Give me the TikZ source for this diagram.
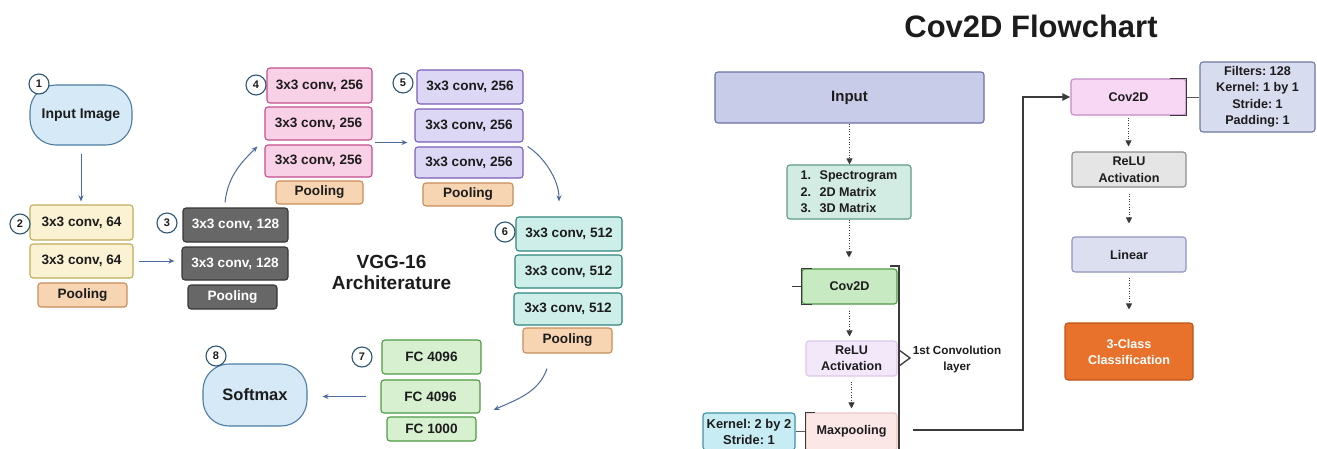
\documentclass[tikz,border=0pt]{standalone}
\usepackage{fontspec}
\setmainfont{Liberation Sans}
\usetikzlibrary{arrows.meta,calc}
\newcommand\sizedbold[2]{\fontsize{#1}{#2}\selectfont\bfseries}
\frenchspacing

% VGG-16 palette
\definecolor{blueF}{HTML}{D5E9F7}
\definecolor{blueL}{HTML}{4E7DA3}
\definecolor{ringL}{HTML}{2F5673}
\definecolor{yelF}{HTML}{FAF2D3}
\definecolor{yelL}{HTML}{BFAE5A}
\definecolor{peachF}{HTML}{F7D5B3}
\definecolor{peachL}{HTML}{C88D5B}
\definecolor{greyF}{HTML}{676767}
\definecolor{greyL}{HTML}{363636}
\definecolor{pinkF}{HTML}{F9D1E6}
\definecolor{pinkL}{HTML}{C44F8E}
\definecolor{purF}{HTML}{DCD7F4}
\definecolor{purL}{HTML}{7B5FB8}
\definecolor{tealF}{HTML}{CEEEEA}
\definecolor{tealL}{HTML}{2F8579}
\definecolor{grnF}{HTML}{D6F0D0}
\definecolor{grnL}{HTML}{4D9B44}
\definecolor{arrB}{HTML}{4D6A9C}
% flowchart palette
\definecolor{inpF}{HTML}{C9CCE8}
\definecolor{inpL}{HTML}{6A71A7}
\definecolor{specF}{HTML}{D3ECE3}
\definecolor{specL}{HTML}{5C9B86}
\definecolor{cvaF}{HTML}{C7EAC2}
\definecolor{cvaL}{HTML}{4F9B47}
\definecolor{reluaF}{HTML}{F3E8FA}
\definecolor{reluaL}{HTML}{DCC7EA}
\definecolor{maxF}{HTML}{FCE7E7}
\definecolor{maxL}{HTML}{EFC7C7}
\definecolor{kernF}{HTML}{C7ECF4}
\definecolor{kernL}{HTML}{3B93AB}
\definecolor{cvbF}{HTML}{F8D7F5}
\definecolor{cvbL}{HTML}{C68BC5}
\definecolor{filtF}{HTML}{D8DCEF}
\definecolor{filtL}{HTML}{6E78A1}
\definecolor{relubF}{HTML}{E5E5E5}
\definecolor{relubL}{HTML}{8C8C8C}
\definecolor{linF}{HTML}{DCDFF0}
\definecolor{linL}{HTML}{8F95BD}
\definecolor{clsF}{HTML}{E8712B}
\definecolor{clsL}{HTML}{C0551A}
\definecolor{ink}{HTML}{1C1C1C}
\definecolor{wire}{HTML}{3A3A3A}

\tikzset{
  sz/.style n args={2}{minimum width=#1, minimum height=#2},
  box/.style={rectangle, draw, rounded corners=3pt, line width=1.1pt,
    inner sep=0pt, align=center, text=ink},
  pill/.style={box, rounded corners=26pt},
  vgg/.style={box, font=\sizedbold{13.6}{16}},
  flow/.style={box, font=\sizedbold{12.6}{16.5}},
  yel/.style={vgg, fill=yelF, draw=yelL},
  peach/.style={vgg, fill=peachF, draw=peachL},
  grey/.style={vgg, fill=greyF, draw=greyL, text=white},
  pink/.style={vgg, fill=pinkF, draw=pinkL},
  pur/.style={vgg, fill=purF, draw=purL},
  teal/.style={vgg, fill=tealF, draw=tealL},
  grn/.style={vgg, fill=grnF, draw=grnL},
  num/.style={circle, draw=ringL, fill=white, line width=1.1pt,
    minimum size=20pt, inner sep=0pt, font=\sizedbold{11}{12}, text=ink},
  barr/.style={draw=arrB, line width=1pt, -{Stealth[length=6pt,width=5pt]}},
  dotarr/.style={draw=wire, line width=0.9pt, dash pattern=on 1pt off 1.6pt,
    -{Triangle[length=6pt,width=6pt,fill=wire]}},
  brk/.style={draw=wire, line width=1.3pt},
  link/.style={draw=gray!70!black, line width=1pt},
  loopw/.style={draw=wire, line width=2pt, -{Triangle[length=8pt,width=7pt]}},
}

\begin{document}
\begin{tikzpicture}[x=1pt,y=-1pt]
\path[fill=white, use as bounding box] (0,0) rectangle (1317,448);

%%% VGG-16 architecture
\node[pill, fill=blueF, draw=blueL, sz={102}{60}, font=\sizedbold{14}{16}] (inimg) at (81,115) {Input Image};

\node[yel, sz={103}{35}] (y1) at (81.5,222.5) {3x3 conv, 64};
\node[yel, sz={103}{34}] (y2) at (81.5,261) {3x3 conv, 64};
\node[peach, sz={89}{24}] (yp) at (82.5,295) {Pooling};

\node[grey, sz={105}{34}] (g1) at (235.5,225) {3x3 conv, 128};
\node[grey, sz={106}{33}] (g2) at (235,263.5) {3x3 conv, 128};
\node[grey, sz={89}{24}] (gp) at (232.5,297) {Pooling};

\node[pink, sz={105}{35}] (p1) at (319.5,85.5) {3x3 conv, 256};
\node[pink, sz={107}{33}] (p2) at (318.5,123.5) {3x3 conv, 256};
\node[pink, sz={107}{32}] (p3) at (318.5,161) {3x3 conv, 256};
\node[peach, sz={87}{23}] (pp) at (319.5,192.5) {Pooling};

\node[pur, sz={106}{34}] (u1) at (470,87) {3x3 conv, 256};
\node[pur, sz={108}{33}] (u2) at (469,125.5) {3x3 conv, 256};
\node[pur, sz={108}{31}] (u3) at (469,162.5) {3x3 conv, 256};
\node[peach, sz={90}{23}] (up) at (468,194.5) {Pooling};

\node[teal, sz={106}{34}] (t1) at (569,234) {3x3 conv, 512};
\node[teal, sz={107}{33}] (t2) at (568.5,271.5) {3x3 conv, 512};
\node[teal, sz={108}{32}] (t3) at (568,309) {3x3 conv, 512};
\node[peach, sz={89}{25}] (tp) at (567.5,340.5) {Pooling};

\node[grn, sz={99}{34}] (f1) at (431.5,357) {FC 4096};
\node[grn, sz={99}{33}] (f2) at (430.5,396.5) {FC 4096};
\node[grn, sz={89}{24}] (f3) at (431.5,429) {FC 1000};

\node[pill, fill=blueF, draw=blueL, sz={104}{62}, font=\sizedbold{16.5}{18}] (soft) at (255,395) {Softmax};

\node[font=\sizedbold{19}{21}, align=center, text=ink] (vggtitle) at (391.5,272.5) {VGG-16\\Architerature};

% step numbers
\node[num] (n1) at (39,84) {1};
\node[num] (n2) at (20,224) {2};
\node[num] (n3) at (167,223) {3};
\node[num] (n4) at (256,85) {4};
\node[num] (n5) at (403,83) {5};
\node[num] (n6) at (505,232) {6};
\node[num] (n7) at (362,357) {7};
\node[num] (n8) at (216,356) {8};

% flow between stages
\draw[barr, shorten <=8pt, shorten >=3pt] (inimg.south) -- (inimg.south |- y1.north);
\draw[barr, shorten <=5pt, shorten >=7pt] (y2.east) -- (y2.east -| g2.west);
\draw[barr] ([xshift=-10.5pt,yshift=5pt]g1.north)
  .. controls +(3,-28) and +(-14,14) .. ([xshift=-7pt,yshift=-2pt]p3.north west);
\coordinate (pgap) at ($(p2.south east)!0.5!(p3.north east)$);
\draw[barr, shorten <=2pt, shorten >=7pt] (pgap) -- (pgap -| u2.west);
\draw[barr] ([xshift=4pt]u3.north east)
  .. controls +(16,10) and +(0,-22) .. ([xshift=-10pt,yshift=15pt]t1.north);
\draw[barr] ([xshift=-20.5pt,yshift=-15pt]tp.south)
  .. controls +(-8,24) and +(22,-10) .. ([xshift=13pt,yshift=-13.5pt]f2.east);
\draw[barr, shorten <=14pt, shorten >=15pt] (f2.west) -- (f2.west -| soft.east);

%%% Cov2D flowchart
\node[font=\sizedbold{31}{36}, text=ink] (flowtitle) at (1031,26) {Cov2D Flowchart};

\node[flow, fill=inpF, draw=inpL, sz={269}{51}, font=\sizedbold{15}{17}] (inp) at (849.5,97.5) {Input};
\node[flow, fill=specF, draw=specL, sz={124}{54}, align=left] (spec) at (849,192)
  {\makebox[19pt][l]{1.}Spectrogram\\\makebox[19pt][l]{2.}2D Matrix\\\makebox[19pt][l]{3.}3D Matrix};
\node[flow, fill=cvaF, draw=cvaL, sz={95}{35}] (cv1) at (849.5,286.5) {Cov2D};
\node[flow, fill=reluaF, draw=reluaL, sz={91}{35}, font=\sizedbold{12.6}{16}] (relu1) at (851.5,358.5) {ReLU\\Activation};
\node[flow, fill=maxF, draw=maxL, sz={91}{37}] (maxp) at (851.5,431.5) {Maxpooling};
\node[flow, fill=kernF, draw=kernL, sz={92}{37}, font=\sizedbold{12.9}{16}] (kern) at (749,431.5) {Kernel: 2 by 2\\Stride: 1};

\node[flow, fill=cvbF, draw=cvbL, sz={115}{36}] (cv2) at (1128.5,97) {Cov2D};
\node[flow, fill=filtF, draw=filtL, sz={115}{70}] (filt) at (1257.5,97) {Filters: 128\\Kernel: 1 by 1\\Stride: 1\\Padding: 1};
\node[flow, fill=relubF, draw=relubL, sz={114}{35}] (relu2) at (1129,169.5) {ReLU\\Activation};
\node[flow, fill=linF, draw=linL, sz={114}{35}] (lin) at (1129,254.5) {Linear};
\node[flow, fill=clsF, draw=clsL, sz={128}{57}, text=white, font=\sizedbold{12.6}{16}] (cls) at (1129,351.5) {3-Class\\Classification};

\node[font=\sizedbold{11.7}{16}, align=center, text=ink] (convlabel) at (957,359) {1st Convolution\\layer};

% dotted flow
\draw[dotarr] (inp.south) -- (inp.south |- spec.north);
\draw[dotarr, shorten >=11pt] (spec.south) -- (spec.south |- cv1.north);
\draw[dotarr, shorten <=6pt, shorten >=4pt] (cv1.south) -- (cv1.south |- relu1.north);
\draw[dotarr, shorten <=5pt, shorten >=4pt] (relu1.south) -- (relu1.south |- maxp.north);
\draw[dotarr, shorten <=2pt, shorten >=5pt] (cv2.south) -- (cv2.south |- relu2.north);
\draw[dotarr, shorten <=6pt, shorten >=13pt] (relu2.south) -- (relu2.south |- lin.north);
\draw[dotarr, shorten <=5pt, shorten >=13pt] (lin.south) -- (lin.south |- cls.north);

% bracket marks on the layer boxes
\coordinate (stub) at ($(cv1.west)+(-9,0)$);
\draw[brk] (stub) -- (cv1.west);
\draw[brk] ([xshift=11pt]cv1.north west) -- (cv1.north west) -- (cv1.south west) -- ([xshift=11pt]cv1.south west);
\draw[brk] ([xshift=10pt]maxp.north west) -- (maxp.north west) -- (maxp.south west);
\draw[brk] ([xshift=-17pt]cv2.north east) -- (cv2.north east) -- (cv2.south east) -- ([xshift=-17pt]cv2.south east);

% group bracket of the first convolution layer
\draw[brk] (890,266) -- (899,266) -- (899,452);
\draw[brk] (899,350) -- (910,358) -- (899,366);

% parameter links
\draw[link] (kern.east) -- (kern.east -| maxp.west);
\draw[link] (cv2.east) -- (cv2.east -| filt.west);

% loop back to the second convolution
\coordinate (loopstart) at (913,430);
\draw[loopw] (loopstart) -- ++(110,0) |- (cv2.west);
\end{tikzpicture}
\end{document}
